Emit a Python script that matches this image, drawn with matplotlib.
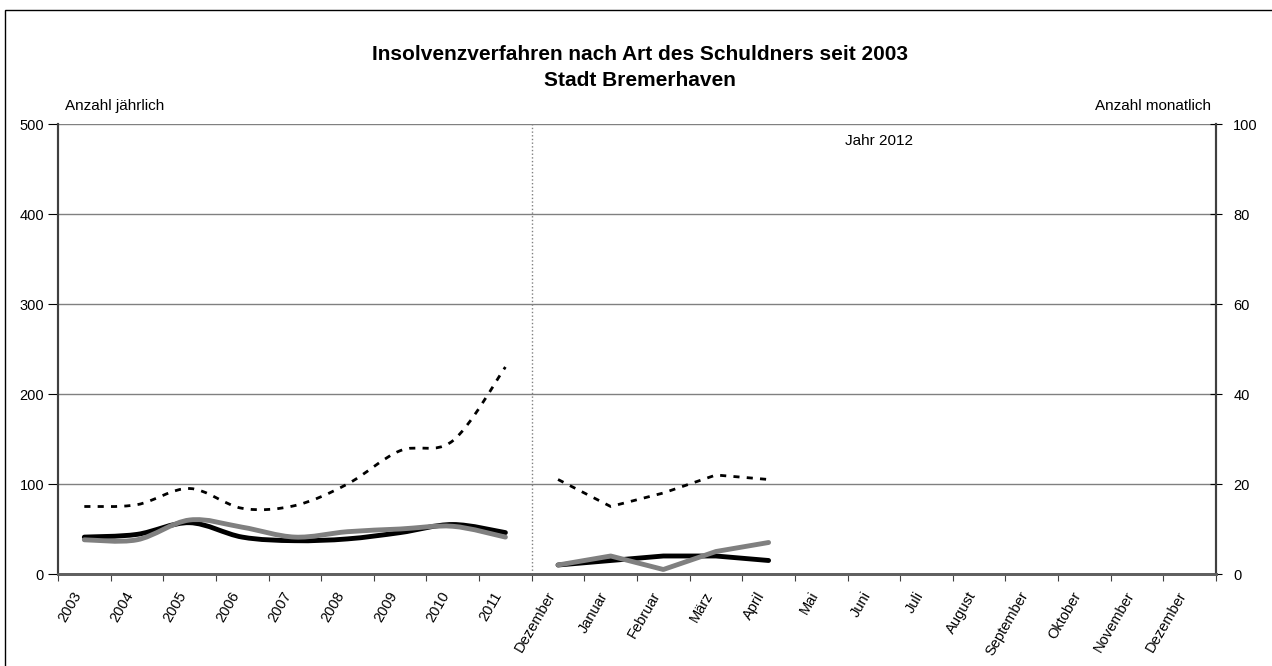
import matplotlib.pyplot as plt
from matplotlib.path import Path
from matplotlib.patches import PathPatch, Rectangle
from matplotlib.transforms import ScaledTranslation

plt.rcParams['font.family'] = ['Liberation Sans', 'DejaVu Sans']

# categories on the x axis
years = ['2003', '2004', '2005', '2006', '2007', '2008', '2009', '2010', '2011']
months = ['Dezember', 'Januar', 'Februar', 'März', 'April', 'Mai', 'Juni', 'Juli',
          'August', 'September', 'Oktober', 'November', 'Dezember']
labels = years + months

# yearly values (left axis)
year_dashed = [75, 77, 95, 73, 76, 100, 137, 148, 230]
year_black = [41, 44, 57, 41, 37, 39, 46, 55, 46]
year_gray = [38, 38, 60, 52, 41, 47, 50, 53, 41]

# monthly values Dez 2011 - April 2012 (right axis)
month_dashed = [21, 15, 18, 22, 21]
month_black = [2, 3, 4, 4, 3]
month_gray = [2, 4, 1, 5, 7]


def smooth_path(xs, ys):
    # bezier path through the points, like a smoothed office chart line
    pts = list(zip(xs, ys))
    verts = [pts[0]]
    codes = [Path.MOVETO]
    n = len(pts)
    for i in range(n - 1):
        p0 = pts[i - 1] if i > 0 else pts[i]
        p1 = pts[i]
        p2 = pts[i + 1]
        p3 = pts[i + 2] if i + 2 < n else pts[i + 1]
        c1 = (p1[0] + (p2[0] - p0[0]) / 6, p1[1] + (p2[1] - p0[1]) / 6)
        c2 = (p2[0] - (p3[0] - p1[0]) / 6, p2[1] - (p3[1] - p1[1]) / 6)
        verts += [c1, c2, p2]
        codes += [Path.CURVE4] * 3
    return Path(verts, codes)


fig = plt.figure(figsize=(12.72, 6.66), dpi=100)
W, H = 1272, 666
ax = fig.add_axes([58 / W, 1 - 574 / H, (1216 - 58) / W, (574 - 124) / H])
ax2 = ax.twinx()

# outer frame
fig.patches.append(Rectangle((5 / W, -0.1), 1.2, 1.1 - 10 / H, transform=fig.transFigure,
                             fill=False, edgecolor='black', linewidth=1))

xy = list(range(len(years)))
xm = list(range(len(years), len(years) + len(month_dashed)))

ax.set_xlim(-0.5, len(labels) - 0.5)
ax.set_ylim(0, 500)
ax2.set_ylim(0, 100)

ax.set_yticks(range(0, 501, 100))
ax2.set_yticks(range(0, 101, 20))
ax.grid(axis='y', color='#808080', linewidth=1)
ax.set_axisbelow(True)

# yearly smoothed lines
ax.add_patch(PathPatch(smooth_path(xy, year_black), fill=False, edgecolor='black',
                       linewidth=3.5, capstyle='round', zorder=3))
ax.add_patch(PathPatch(smooth_path(xy, year_gray), fill=False, edgecolor='#808080',
                       linewidth=3.5, capstyle='round', zorder=4))
ax.add_patch(PathPatch(smooth_path(xy, year_dashed), fill=False, edgecolor='black',
                       linewidth=2, linestyle=(0, (2.2, 2.6)), zorder=4))

# monthly lines
ax2.plot(xm, month_black, color='black', linewidth=3.5, solid_capstyle='round', zorder=3)
ax2.plot(xm, month_gray, color='#808080', linewidth=3.5, solid_capstyle='round', zorder=4)
ax2.plot(xm, month_dashed, color='black', linewidth=2, linestyle=(0, (2.2, 2.6)), zorder=4)

# separator between years and months
ax.axvline(len(years) - 0.5, color='#808080', linestyle=':', linewidth=1)

# x ticks at category borders, labels at the centers
ax.set_xticks([i + 0.5 for i in range(-1, len(labels))])
ax.set_xticklabels([])
ax.set_xticks(range(len(labels)), minor=True)
ax.set_xticklabels(labels, minor=True, rotation=60, ha='right', rotation_mode='anchor',
                   fontsize=10.5)
ax.tick_params(axis='x', which='major', direction='out', length=5, color='#404040')
ax.tick_params(axis='x', which='minor', length=0, pad=13)
ax.tick_params(axis='y', direction='out', length=7, labelsize=10.5, pad=3)
ax2.tick_params(axis='y', direction='inout', length=9, labelsize=10.5, pad=8)

shift = ScaledTranslation(-9 / 72, 2 / 72, fig.dpi_scale_trans)
for lab in ax.get_xticklabels(minor=True):
    lab.set_transform(lab.get_transform() + shift)

for a in (ax, ax2):
    a.spines['top'].set_visible(False)
    a.spines['left'].set_color('#404040')
    a.spines['right'].set_color('#404040')
    a.spines['bottom'].set_color('#606060')
    a.spines['bottom'].set_linewidth(2)
    a.spines['left'].set_linewidth(1.5)
    a.spines['right'].set_linewidth(1.5)

fig.text(640 / W, 1 - 54 / H, 'Insolvenzverfahren nach Art des Schuldners seit 2003',
         ha='center', va='center', fontsize=15, fontweight='bold')
fig.text(640 / W, 1 - 80 / H, 'Stadt Bremerhaven', ha='center', va='center',
         fontsize=15, fontweight='bold')
fig.text(65 / W, 1 - 106 / H, 'Anzahl jährlich', ha='left', va='center', fontsize=11)
fig.text(1211 / W, 1 - 106 / H, 'Anzahl monatlich', ha='right', va='center', fontsize=11)
fig.text(845 / W, 1 - 141 / H, 'Jahr 2012', ha='left', va='center', fontsize=11)

fig.savefig('out.png', dpi=100)
